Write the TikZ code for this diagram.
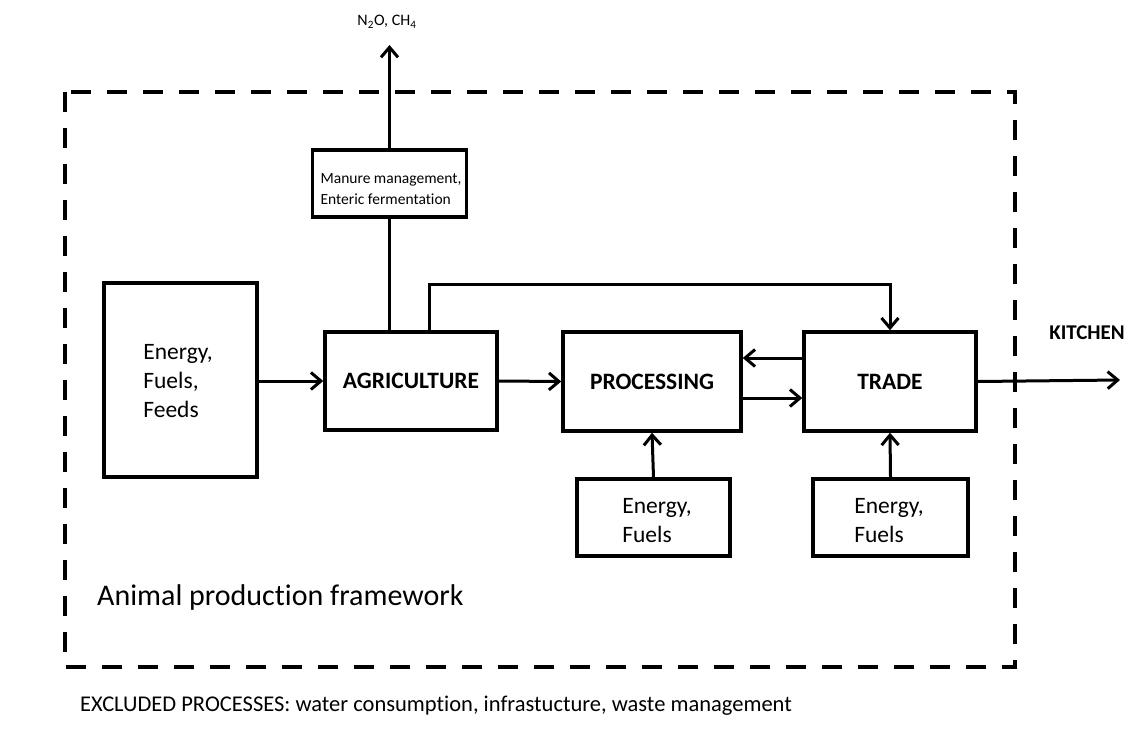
\documentclass[tikz,border=0pt]{standalone}
\usepackage{fontspec}
\setmainfont{Carlito}[Ligatures=NoCommon]
\usetikzlibrary{arrows.meta,calc}
\begin{document}
\begin{tikzpicture}[x=1pt,y=-1pt,
  box/.style={draw,line width=3.5pt,rectangle,inner sep=0pt,font=\fontsize{23.5}{29}\selectfont},
  boldbox/.style={box,font=\fontsize{23.5}{29}\selectfont\bfseries},
  conn/.style={line width=3pt},
  arr/.style={conn,-{Straight Barb[length=10pt,width=17pt,line width=3pt]}},
  frame/.style={line width=4.5pt,dash pattern=on 20pt off 16pt},
  lbl/.style={inner sep=0pt}
]
\useasboundingbox[fill=white] (0,0) rectangle (1140,739);
\draw[frame] (65,92) rectangle (1015,667);

\node[box,minimum width=153pt,minimum height=194pt] (energy) at (180.5,380) {};
\node[lbl,align=left,font=\fontsize{23.5}{29}\selectfont] (energytxt) at (178,381) {Energy,\\Fuels,\\Feeds};
\node[boldbox,minimum width=172pt,minimum height=98pt] (agri) at (411,381) {AGRICULTURE};
\node[boldbox,minimum width=178pt,minimum height=99pt] (proc) at (652,381.5) {PROCESSING};
\node[boldbox,minimum width=172pt,minimum height=99pt] (trade) at (890,381.5) {TRADE};
\node[box,minimum width=153pt,minimum height=77pt] (en2) at (653.5,517.5) {};
\node[lbl,align=left,font=\fontsize{23.5}{29}\selectfont] (en2txt) at (657,521) {Energy,\\Fuels};
\node[box,minimum width=155pt,minimum height=77pt] (en3) at (890.5,517.5) {};
\node[lbl,align=left,font=\fontsize{23.5}{29}\selectfont] (en3txt) at (889,521) {Energy,\\Fuels};
\node[box,minimum width=154pt,minimum height=67pt] (manure) at (389.5,183.5) {};
\node[lbl,align=left,font=\fontsize{15.5}{21}\selectfont] (manuretxt) at (391,189) {Manure management,\\Enteric fermentation};

\node[lbl,font=\fontsize{16}{18}\selectfont] (ghg) at (387,22) {N\textsubscript{2}O, CH\textsubscript{4}};
\coordinate (ghgend) at (389.5,45);
\node[lbl,font=\fontsize{21}{24}\selectfont\bfseries] (kitchen) at (1087,333) {KITCHEN};
\coordinate (kitend) at (1120,380);
\coordinate (fb) at (429,284);

\node[lbl,anchor=west,font=\fontsize{30}{34}\selectfont] (apf) at (97,597) {Animal production framework};
\node[lbl,anchor=west,font=\fontsize{22.5}{26}\selectfont] (excl) at (80,706) {EXCLUDED PROCESSES: water consumption, infrastucture, waste management};

\draw[arr] (manure.north) -- (ghgend);
\draw[conn] (manure.south |- agri.north) -- (manure.south);
\draw[arr] (agri.north -| fb) -- (fb) -| (trade.north);
\draw[arr] (energy.east |- agri.west) -- (agri.west);
\draw[arr] (agri.east) -- (proc.west);
\draw[arr] ([yshift=23.5pt]trade.west) -- ([yshift=23.5pt]proc.east);
\draw[arr] ([yshift=-16.5pt]proc.east) -- ([yshift=-16.5pt]trade.west);
\draw[arr] (trade.east) -- (kitend);
\draw[arr] (en2.north) -- (proc.south);
\draw[arr] (en3.north) -- (trade.south);
\end{tikzpicture}
\end{document}
